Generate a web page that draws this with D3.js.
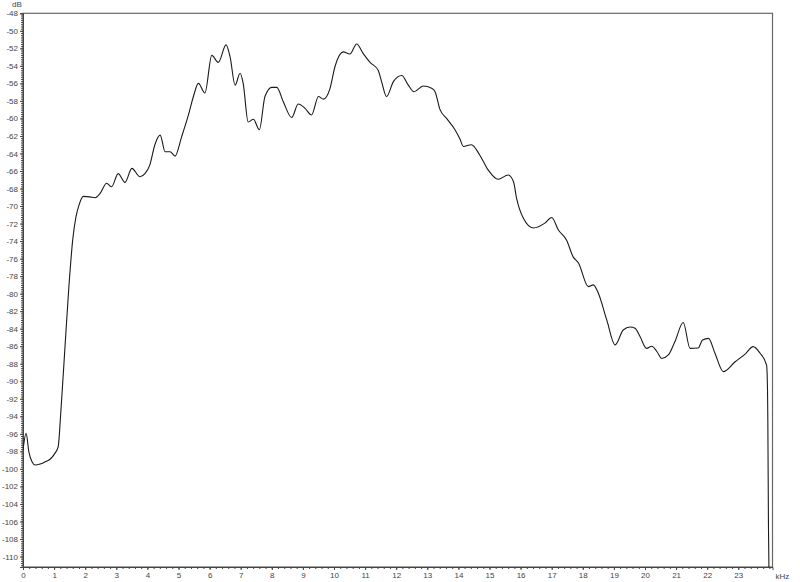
<!DOCTYPE html>
<html>
<head>
<meta charset="utf-8">
<script src="https://cdn.jsdelivr.net/npm/d3@7"></script>
<style>
  body { margin: 0; background: #fff; }
  svg text { font-family: 'Liberation Sans', Arial, sans-serif; font-size: 8px; fill: #444; }
</style>
</head>
<body>
<script>
// spectrum: frequency (kHz) and level (dB)
const freqs = [
  0, 0.10, 0.19, 0.29, 0.39, 0.55, 0.71, 0.87, 1.03, 1.13, 1.22, 1.35, 1.47, 1.60, 1.70, 1.80, 1.94,
  2.15, 2.32, 2.48, 2.69, 2.85, 3.06, 3.28, 3.50, 3.76, 3.92, 4.08, 4.24, 4.41, 4.57, 4.73, 4.89,
  5.10, 5.32, 5.48, 5.64, 5.85, 6.07, 6.28, 6.53, 6.66, 6.82, 6.98, 7.08, 7.24, 7.41, 7.60, 7.78,
  8.00, 8.16, 8.37, 8.64, 8.85, 9.07, 9.28, 9.50, 9.66, 9.87, 10.03, 10.30, 10.51, 10.73, 10.94,
  11.16, 11.42, 11.53, 11.69, 11.91, 12.18, 12.39, 12.57, 12.87, 13.14, 13.25, 13.41, 13.62, 13.89,
  14.05, 14.16, 14.42, 14.69, 14.96, 15.28, 15.60, 15.77, 15.87, 16.09, 16.41, 16.78, 17.00, 17.21,
  17.48, 17.69, 17.86, 18.18, 18.34, 18.50, 18.77, 19.04, 19.30, 19.52, 19.68, 19.84, 20.05, 20.22,
  20.38, 20.54, 20.75, 20.96, 21.23, 21.45, 21.71, 21.85, 22.04, 22.25, 22.52, 22.89, 23.22, 23.48,
  23.70, 23.91, 23.94, 23.95, 23.97, 23.99
]
const levels = [
  -97.85, -95.95, -98.1, -99.2, -99.56, -99.45, -99.2, -98.9, -98.2, -97.5, -93.3, -86.1, -79.5, -73.8, -71.3, -69.9, -68.9,
  -68.95, -69.05, -68.55, -67.4, -67.8, -66.3, -67.3, -65.7, -66.65, -66.3, -65.3, -63.0, -61.9, -63.8, -63.8, -64.3,
  -62.1, -59.6, -57.5, -56.0, -57.1, -52.8, -53.6, -51.6, -53.0, -56.2, -54.85, -56.0, -60.4, -60.1, -61.3, -57.5,
  -56.45, -56.45, -58.1, -59.9, -58.35, -58.85, -59.6, -57.5, -57.8, -56.6, -54.1, -52.4, -52.65, -51.5, -52.6,
  -53.6, -54.5, -55.8, -57.5, -55.8, -55.1, -56.2, -56.95, -56.3, -56.55, -56.95, -59.0, -60.0, -61.3,
  -62.35, -63.2, -63.0, -64.2, -65.9, -66.95, -66.45, -67.2, -69.1, -71.4, -72.5, -71.95, -71.3, -72.7,
  -73.9, -75.8, -76.5, -79.2, -79.0, -79.95, -83.0, -85.85, -84.15, -83.8, -83.95, -84.9, -86.25, -86.0,
  -86.6, -87.4, -87.0, -85.5, -83.3, -86.25, -86.2, -85.3, -85.1, -86.8, -88.9, -87.8, -86.9, -86.05,
  -86.8, -88.15, -91.0, -94.4, -106.5, -112.7
]
const yTicks = d3.range(-48, -111, -2)
const xTicks = d3.range(0, 24)

const WIDTH = 800, HEIGHT = 582
const M = { left: 23, top: 13.3, right: 27.5, bottom: 15 }

const x = d3.scaleLinear().domain([0, 24.1]).range([M.left, WIDTH - M.right])
const y = d3.scaleLinear().domain([-111.2, -48]).range([HEIGHT - M.bottom, M.top])

const svg = d3.select('body').append('svg')
  .attr('width', WIDTH)
  .attr('height', HEIGHT)

svg.append('defs').append('clipPath')
  .attr('id', 'plot')
  .append('rect')
  .attr('x', x(0)).attr('y', y(-48))
  .attr('width', x(24.1) - x(0)).attr('height', y(-111.2) - y(-48))

// frame
svg.append('rect')
  .attr('x', x(0)).attr('y', y(-48))
  .attr('width', x(24.1) - x(0)).attr('height', y(-111.2) - y(-48))
  .attr('fill', 'none')
  .attr('stroke', '#666')
  .attr('stroke-width', 1.2)

const styleAxis = g => {
  g.selectAll('.domain').attr('stroke', '#444')
  g.selectAll('.tick line').attr('stroke', '#444')
  g.selectAll('.tick text').attr('fill', '#444').style('font-size', '8px')
}

// y minor ticks
svg.append('g')
  .attr('transform', `translate(${x(0)},0)`)
  .call(d3.axisLeft(y).tickValues(d3.range(-48, -111.01, -0.25)).tickSize(2).tickFormat(''))
  .call(g => g.select('.domain').remove())
  .call(styleAxis)

svg.append('g')
  .attr('transform', `translate(${x(0)},0)`)
  .call(d3.axisLeft(y).tickValues(yTicks).tickSize(3).tickPadding(2).tickFormat(d => String(d)))
  .call(styleAxis)

// x minor ticks
svg.append('g')
  .attr('transform', `translate(0,${y(-111.2)})`)
  .call(d3.axisBottom(x).tickValues(d3.range(0, 24.01, 0.2)).tickSize(2).tickFormat(''))
  .call(g => g.select('.domain').remove())
  .call(styleAxis)

svg.append('g')
  .attr('transform', `translate(0,${y(-111.2)})`)
  .call(d3.axisBottom(x).tickValues(xTicks).tickSize(3).tickPadding(2).tickFormat(d => String(d)))
  .call(styleAxis)

svg.append('text')
  .attr('x', 12).attr('y', 7)
  .text('dB')

svg.append('text')
  .attr('x', x(24.1) + 3).attr('y', y(-111.2) + 12)
  .text('kHz')

const line = d3.line()
  .x((d, i) => x(freqs[i]))
  .y(d => y(d))
  .curve(d3.curveMonotoneX)

svg.append('path')
  .datum(levels)
  .attr('clip-path', 'url(#plot)')
  .attr('fill', 'none')
  .attr('stroke', '#1a1a1a')
  .attr('stroke-width', 1.1)
  .attr('d', line)
</script>
</body>
</html>
